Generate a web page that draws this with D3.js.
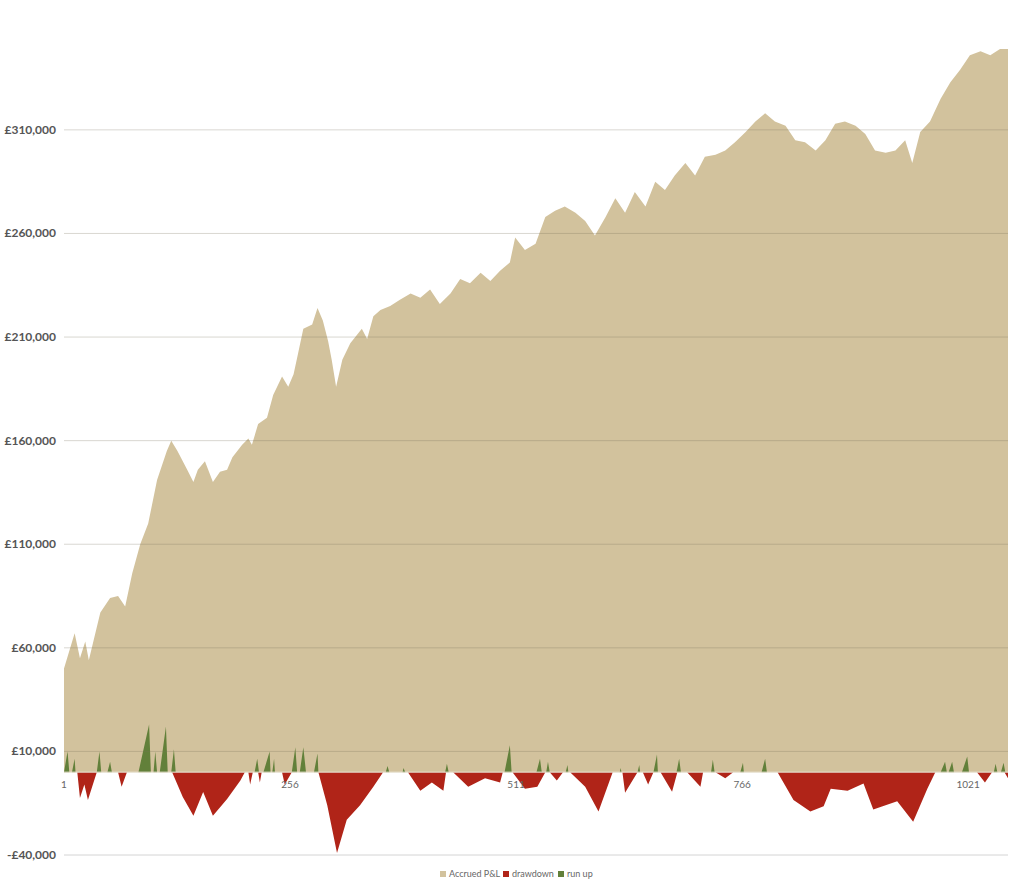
<!DOCTYPE html>
<html><head><meta charset="utf-8">
<script src="https://cdn.jsdelivr.net/npm/d3@7"></script>
<style>body{margin:0;background:#fff}</style>
</head><body>
<svg id="chart" width="1024" height="888"></svg>
<script>
// values in thousands of £, x = trade number
var pnlTrade = [1,13,19,25,29,42,53,62,70,78,87,96,106,117,122,129,140,147,152,160,169,177,185,191,202,209,213,220,230,237,247,254,260,265,271,281,287,293,299,303,308,315,324,337,343,350,358,369,380,392,403,414,425,437,448,459,471,482,493,504,510,521,533,544,555,566,578,589,600,612,623,634,645,657,668,679,690,702,713,724,736,747,758,770,781,792,803,815,826,837,849,860,871,882,894,905,916,928,939,950,958,967,978,990,1001,1012,1023,1035,1046,1057,1066];
var pnlValue = [50,67,55,63,54,77,84,85,80,96,110,120,141,155,160,155,146,140,146,150,140,145,146,152,158,161,158,168,171,182,191,186,192,202,214,216,224,218,208,199,186,199,207,214,209,220,223,225,228,231,229,233,226,231,238,236,241,237,242,246,258,252,255,268,271,273,270,266,259,268,277,270,280,273,285,281,288,294,288,297,298,300,304,309,314,318,314,312,305,304,300,305,313,314,312,308,300,299,300,305,294,309,314,325,333,339,346,348,346,349,349];

var ddTrade = [1,16,19,24,28,38,62,66,72,123,135,147,158,169,185,200,205,209,211,214,220,222,224,247,250,258,288,298,309,320,335,350,361,389,403,416,429,432,440,457,476,493,496,507,521,535,544,549,557,564,572,589,604,620,631,634,648,654,660,666,674,687,693,704,719,722,736,747,756,806,824,843,858,866,885,903,914,941,959,975,984,1031,1040,1048,1062,1066];
var ddValue = [0,0,-12.5,-6,-13.5,0,0,-7,0,0,-12,-21,-9.6,-21,-13,-4,0,0,-6,0,0,-5,0,0,-6,0,0,-16,-39,-23,-16,-7,0,0,-9,-5,-9,0,0,-7,-3,-5,0,0,-8,-7,0,0,-4,0,0,-7,-19,0,0,-10,0,0,-6,0,0,-9.5,0,0,-7,0,0,-3,0,0,-13.5,-19,-16.5,-8,-9,-5.5,-18,-14,-24,-8,0,0,-5,0,0,-3];

var ruTrade = [1,5,7,10,13,14,38,41,43,50,53,55,85,97,99,102,104,106,109,116,118,122,125,127,216,219,221,226,233,234,236,238,239,258,262,264,267,271,274,283,287,288,364,366,368,383,384,386,431,433,435,498,504,506,534,538,540,545,547,549,567,569,570,628,629,630,648,650,651,666,670,671,692,695,697,731,733,735,764,767,768,788,792,794,990,995,997,999,1003,1005,1014,1020,1022,1050,1052,1054,1058,1061,1063];
var ruValue = [0,10,0,0,6.5,0,0,10,0,0,5,0,0,23,0,0,10,0,0,22,0,0,11,0,0,6.5,0,0,10,0,0,6.5,0,0,12,0,0,12,0,0,9,0,0,3,0,0,2,0,0,4,0,0,13,0,0,6.5,0,0,5,0,0,3.5,0,0,2,0,0,3.5,0,0,8.5,0,0,6.5,0,0,6,0,0,4.5,0,0,6.5,0,0,5,0,0,5,0,0,7.5,0,0,4,0,0,4.5,0];

var yTicks = [-40,10,60,110,160,210,260,310];
var xTicks = [1,256,511,766,1021];
var legendNames = ["Accrued P&L","drawdown","run up"];
var colors = ["#d2c29d","#b02418","#62803a"];

var svg = d3.select("#chart");
var x = d3.scaleLinear().domain([1,1066]).range([64,1008]);
var y = d3.scaleLinear().domain([-40,350]).range([855,47]);

function pts(t, v){ return t.map(function(d,i){ return [d, v[i]]; }); }
var area = d3.area().x(function(d){return x(d[0]);}).y0(y(0)).y1(function(d){return y(d[1]);});

svg.append("path").datum(pts(pnlTrade,pnlValue)).attr("d",area).attr("fill",colors[0]);
svg.append("path").datum(pts(ruTrade,ruValue)).attr("d",area).attr("fill",colors[2]);
svg.append("path").datum(pts(ddTrade,ddValue)).attr("d",area).attr("fill",colors[1]);

// gridlines
svg.append("g").selectAll("line").data(yTicks).enter().append("line")
  .attr("x1",64).attr("x2",1008)
  .attr("y1",function(d){return y(d);}).attr("y2",function(d){return y(d);})
  .attr("stroke", function(d){ return d==-40 ? "#d4d4d4" : "rgba(120,110,90,0.28)"; })
  .attr("stroke-width",1);

svg.append("line").attr("x1",64).attr("x2",1008).attr("y1",y(0)).attr("y2",y(0))
  .attr("stroke","#e6e0d0").attr("stroke-width",1);

function fmt(d){ var s = "£" + d3.format(",")(Math.abs(d)*1000); return d<0 ? "-"+s : s; }
svg.append("g").selectAll("text").data(yTicks).enter().append("text")
  .attr("x",56).attr("y",function(d){return y(d)+4;})
  .attr("text-anchor","end").attr("font-family","Lato, 'Open Sans', sans-serif")
  .attr("font-size",12).attr("font-weight","bold").attr("fill","#555")
  .text(fmt);

svg.append("g").selectAll("text").data(xTicks).enter().append("text")
  .attr("x",function(d){return x(d);}).attr("y",788)
  .attr("text-anchor","middle").attr("font-family","Lato, 'Open Sans', sans-serif")
  .attr("font-size",10).attr("fill","#666")
  .text(function(d){return d;});

// legend
var legX = [440,503,558];
var leg = svg.append("g").selectAll("g").data(legendNames).enter().append("g")
  .attr("transform",function(d,i){return "translate("+legX[i]+",872)";});
leg.append("rect").attr("width",6).attr("height",6).attr("y",-1).attr("fill",function(d,i){return colors[i];});
leg.append("text").attr("x",9).attr("y",5).attr("font-family","Lato, 'Open Sans', sans-serif")
  .attr("font-size",9).attr("fill","#666").text(function(d){return d;});
</script>
</body></html>
